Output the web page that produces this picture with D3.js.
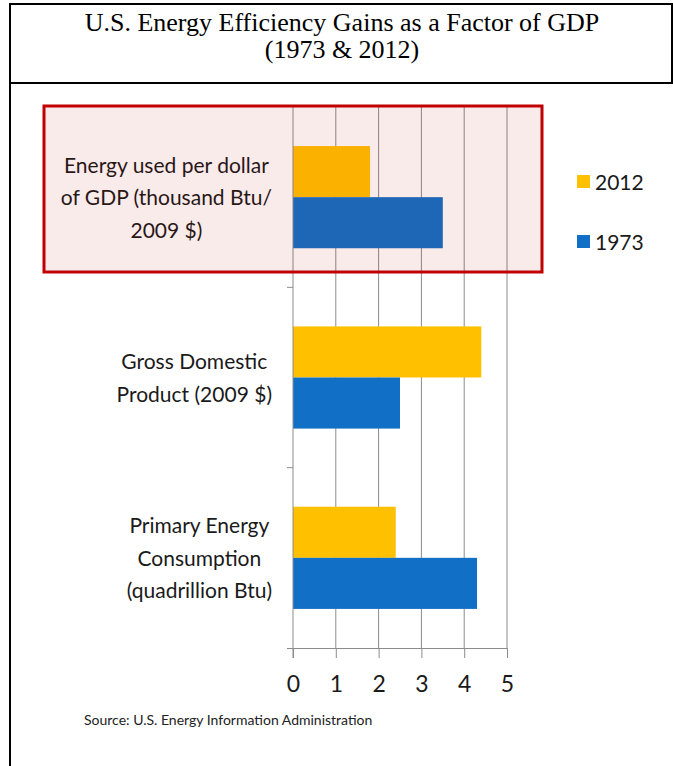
<!DOCTYPE html>
<html>
<head>
<meta charset="utf-8">
<script src="https://cdnjs.cloudflare.com/ajax/libs/d3/7.8.5/d3.min.js"></script>
<style>
  html, body { margin: 0; padding: 0; background: #fff; }
  svg { display: block; }
</style>
</head>
<body>
<svg id="viz"></svg>
<script>
// chart data
const categories = [
  ['Energy used per dollar', 'of GDP (thousand Btu/', '2009 $)'],
  ['Gross Domestic', 'Product (2009 $)'],
  ['Primary Energy', 'Consumption', '(quadrillion Btu)']
];
const series = ['2012', '1973'];
const values2012 = [1.8, 4.4, 2.4];
const values1973 = [3.5, 2.5, 4.3];
const xTicks = [0, 1, 2, 3, 4, 5];
const titleLines = ['U.S. Energy Efficiency Gains as a Factor of GDP', '(1973 & 2012)'];
const sourceText = 'Source: U.S. Energy Information Administration';

var width = 673;
var height = 766;
var colors = { '2012': '#FFC000', '1973': '#1170C6' };
var labelFont = 'Lato, "Open Sans", sans-serif';

var svg = d3.select('#viz')
            .attr('width', width)
            .attr('height', height);

// frame of the table cell
svg.append('line').attr('x1', 10).attr('x2', 673).attr('y1', 4).attr('y2', 4)
   .attr('stroke', '#000').attr('stroke-width', 2);
svg.append('line').attr('x1', 10).attr('x2', 10).attr('y1', 3).attr('y2', height)
   .attr('stroke', '#000').attr('stroke-width', 2);
svg.append('line').attr('x1', 672).attr('x2', 672).attr('y1', 3).attr('y2', 83)
   .attr('stroke', '#000').attr('stroke-width', 2);
svg.append('line').attr('x1', 10).attr('x2', 673).attr('y1', 83).attr('y2', 83)
   .attr('stroke', '#000').attr('stroke-width', 2);

// title
svg.append('g').selectAll('text')
   .data(titleLines)
   .enter().append('text')
   .attr('x', 342)
   .attr('y', (d, i) => 31 + i * 27)
   .attr('text-anchor', 'middle')
   .style('font-family', '"Liberation Serif", "Times New Roman", serif')
   .style('font-size', '26px')
   .attr('fill', '#000')
   .text(d => d);

// scales
var plot = { left: 293, right: 507, top: 107, bottom: 648 };
var data = categories.map((c, i) => ({ label: c, '2012': values2012[i], '1973': values1973[i] }));

var xScale = d3.scaleLinear().domain([0, 5]).range([plot.left, plot.right]);
var yScale = d3.scaleBand().domain(d3.range(categories.length)).range([plot.top, plot.bottom]);
var ySub = d3.scaleBand().domain(series).range([0, yScale.bandwidth()])
             .paddingInner(0).paddingOuter(0.765);

var g = svg.append('g');

// vertical gridlines
g.selectAll('.grid')
 .data(xTicks.slice(1))
 .enter().append('line')
 .attr('class', 'grid')
 .attr('x1', d => xScale(d)).attr('x2', d => xScale(d))
 .attr('y1', plot.top).attr('y2', plot.bottom)
 .attr('stroke', '#8c8c8c').attr('stroke-width', 1);

// bars
var groups = g.selectAll('.cat')
  .data(data)
  .enter().append('g')
  .attr('class', 'cat')
  .attr('transform', (d, i) => `translate(0, ${yScale(i)})`);

groups.selectAll('rect')
  .data(d => series.map(s => ({ key: s, value: d[s] })))
  .enter().append('rect')
  .attr('x', xScale(0))
  .attr('y', d => ySub(d.key))
  .attr('width', d => xScale(d.value) - xScale(0))
  .attr('height', ySub.bandwidth())
  .attr('fill', d => colors[d.key]);

// x axis
var xAxis = d3.axisBottom(xScale).tickValues(xTicks).tickSize(10).tickPadding(0).tickFormat(d3.format('d'));
var xAxisG = svg.append('g')
  .attr('transform', `translate(0, ${plot.bottom})`)
  .call(xAxis);
xAxisG.select('.domain').attr('d', `M${plot.left - 6},0.5H${plot.right}`).attr('stroke', '#8c8c8c');
xAxisG.selectAll('.tick line').attr('stroke', '#8c8c8c');
xAxisG.selectAll('.tick text')
  .attr('y', 44).attr('dy', null)
  .style('font-family', labelFont)
  .style('font-size', '23px')
  .attr('fill', '#1a1a1a');

// y axis (category separators)
var yEdges = d3.range(categories.length + 1).map(i => i === categories.length ? plot.bottom : yScale(i));
svg.append('line')
  .attr('x1', plot.left).attr('x2', plot.left)
  .attr('y1', plot.top).attr('y2', plot.bottom + 10)
  .attr('stroke', '#8c8c8c');
svg.selectAll('.ytick')
  .data(yEdges.slice(1, -1))
  .enter().append('line')
  .attr('class', 'ytick')
  .attr('x1', plot.left - 6).attr('x2', plot.left)
  .attr('y1', d => d).attr('y2', d => d)
  .attr('stroke', '#8c8c8c');

// category labels: block right aligned, lines centred inside
var labelRight = 272;
var lineH = 32.5;
categories.forEach((lines, i) => {
  var lg = svg.append('g');
  var cy = yScale(i) + yScale.bandwidth() / 2;
  var texts = lg.selectAll('text')
    .data(lines)
    .enter().append('text')
    .attr('y', (d, j) => cy + (j - (lines.length - 1) / 2) * lineH + 8)
    .attr('text-anchor', 'middle')
    .style('font-family', labelFont)
    .style('font-size', '21px')
    .attr('fill', '#1a1a1a')
    .text(d => d);
  var maxW = d3.max(texts.nodes(), n => n.getComputedTextLength());
  texts.attr('x', labelRight - maxW / 2);
});

// legend
var legend = svg.append('g').selectAll('g')
  .data(series)
  .enter().append('g')
  .attr('transform', (d, i) => `translate(577, ${175 + i * 60})`);
legend.append('rect').attr('width', 13).attr('height', 13).attr('fill', d => colors[d]);
legend.append('text')
  .attr('x', 18).attr('y', 15)
  .style('font-family', labelFont)
  .style('font-size', '21px')
  .attr('fill', '#1a1a1a')
  .text(d => d);

// highlight box over the first category
svg.append('rect')
  .attr('x', 44).attr('y', yScale(0) - 1)
  .attr('width', 498).attr('height', 166)
  .attr('fill', 'rgba(192,0,0,0.08)')
  .attr('stroke', '#C00000').attr('stroke-width', 3);

// source
svg.append('text')
  .attr('x', 84).attr('y', 725)
  .style('font-family', labelFont)
  .style('font-size', '14px')
  .attr('fill', '#222')
  .text(sourceText);
</script>
</body>
</html>
